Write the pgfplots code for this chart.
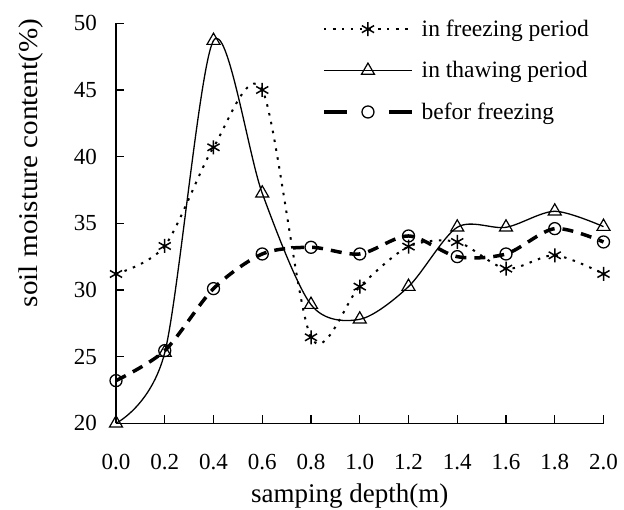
\documentclass[border=0pt]{standalone}
\usepackage{fontspec}
\setmainfont{Liberation Serif}
\usepackage{pgfplots}
\pgfplotsset{compat=1.18}
\pgfplotsset{
  legline/.style={legend image code/.code={\draw[mark repeat=2, mark phase=2, ##1]
      plot coordinates {(0pt,0pt) (44pt,0pt) (88pt,0pt)};}},
  legdash/.style={legend image code/.code={\draw[mark repeat=2, mark phase=2, ##1,
      dash pattern=on 23pt off 42pt]
      plot coordinates {(0pt,0pt) (44pt,0pt) (88pt,0pt)};}},
}

\begin{document}
\begin{tikzpicture}
  \begin{axis}[
      name=ax,
      scale only axis,
      width=487.5pt, height=400pt,
      xmin=0, xmax=2, ymin=20, ymax=50,
      clip=false,
      axis x line*=bottom, axis y line*=left,
      axis line style={black, line width=1.4pt},
      xtick={0,0.2,0.4,0.6,0.8,1,1.2,1.4,1.6,1.8,2},
      ytick={20,25,30,35,40,45,50},
      tick align=inside,
      major tick length=8pt,
      tick style={black, line width=1.2pt},
      /pgf/number format/assume math mode=true,
      tick label style={font=\fontsize{23}{26}\selectfont},
      xticklabel style={/pgf/number format/fixed, /pgf/number format/fixed zerofill,
        /pgf/number format/precision=1, anchor=north, inner sep=0pt, yshift=-31pt},
      yticklabel style={anchor=east, inner sep=0pt, xshift=-19pt},
      xlabel={samping depth(m)},
      ylabel={soil moisture content(\%)},
      every axis x label/.style={at={(rel axis cs:0.5,0)}, anchor=north, inner sep=0pt,
        yshift=-60pt, xshift=-10pt, font=\fontsize{27}{30}\selectfont},
      every axis y label/.style={at={(rel axis cs:0,0.29)}, rotate=90, anchor=base west,
        inner sep=0pt, yshift=78pt, xscale=1.08, font=\fontsize{27}{30}\selectfont},
      legend style={at={(rel axis cs:0.4226,1.0085)}, anchor=north west, draw=none, fill=none,
        font=\fontsize{23.5}{26}\selectfont, inner sep=0pt, row sep=23.5pt,
        nodes={inner sep=0pt},
        /tikz/every odd column/.append style={column sep=8pt}},
      legend cell align=left,
    ]
    % in freezing period
    \addplot[black, line width=2pt, dash pattern=on 2.5pt off 6.5pt, smooth,
      mark=asterisk, mark size=7pt, mark options={solid, line width=1.5pt}, legline]
      coordinates {(0,31.2) (0.2,33.3) (0.4,40.7) (0.6,45.0) (0.8,26.45) (1.0,30.25)
        (1.2,33.25) (1.4,33.6) (1.6,31.6) (1.8,32.6) (2.0,31.2)};
    % in thawing period
    \addplot[black, line width=1.3pt, smooth,
      mark=triangle, mark size=7.5pt, mark options={solid, line width=1.2pt}, legline]
      coordinates {(0,20.0) (0.2,25.3) (0.4,48.7) (0.6,37.25) (0.8,28.9) (1.0,27.8)
        (1.2,30.25) (1.4,34.7) (1.6,34.7) (1.8,35.9) (2.0,34.75)};
    % befor freezing
    \addplot[black, line width=3.5pt, dash pattern=on 11pt off 8pt, smooth,
      mark=o, mark size=6pt, mark options={solid, line width=1.3pt}, legdash]
      coordinates {(0,23.2) (0.2,25.45) (0.4,30.1) (0.6,32.7) (0.8,33.2) (1.0,32.7)
        (1.2,34.05) (1.4,32.5) (1.6,32.7) (1.8,34.6) (2.0,33.6)};
    \legend{in freezing period, in thawing period, befor freezing}
  \end{axis}
  \pgfresetboundingbox
  \path[use as bounding box] ([xshift=-116pt,yshift=-85.7pt]ax.south west)
    rectangle ([xshift=20.5pt,yshift=23.3pt]ax.north east);
\end{tikzpicture}
\end{document}
